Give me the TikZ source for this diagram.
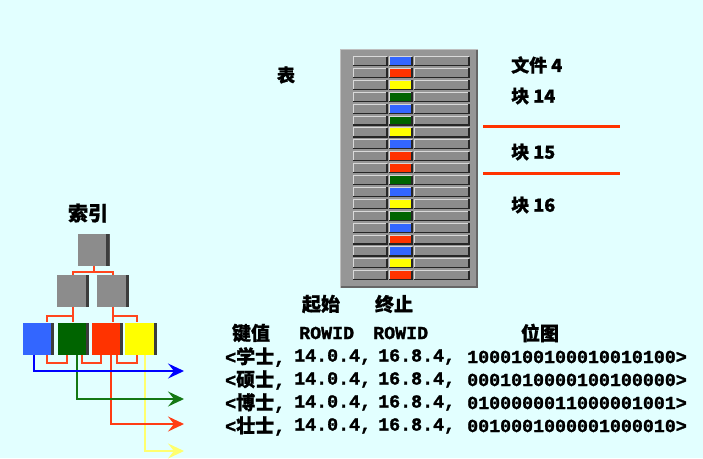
\documentclass[tikz,border=0pt]{standalone}
\usepackage{fontspec}
\newfontfamily\cjk{Noto Sans CJK SC}[FakeBold=1]
\newfontfamily\monof{Liberation Mono}[FakeBold=1.5]
\usetikzlibrary{arrows.meta,calc}
\definecolor{bg}{RGB}{226,255,255}
\definecolor{boxgray}{RGB}{140,140,140}
\definecolor{shadowc}{RGB}{60,60,60}
\definecolor{panelgray}{RGB}{150,150,150}
\definecolor{bargray}{RGB}{140,140,140}
\definecolor{cblue}{RGB}{51,102,255}
\definecolor{cgreen}{RGB}{0,100,0}
\definecolor{cred}{RGB}{255,51,0}
\definecolor{cyellow}{RGB}{255,255,0}
\definecolor{ablue}{RGB}{0,0,255}
\definecolor{agreen}{RGB}{20,120,20}
\definecolor{ared}{RGB}{255,60,20}
\definecolor{ayellow}{RGB}{255,255,110}
\definecolor{connred}{RGB}{255,70,30}
\newcommand\bevelbox[5]{%
  \fill[#5] (#1,#2) rectangle (#3,#4);
  \draw[white!85!black, line width=1pt] (#1,#4) -- (#1,#2) -- (#3,#2);
  \draw[black!85, line width=1.2pt] (#1,#4) -- (#3,#4) -- (#3,#2);
}
\tikzset{
  idxbox/.style={minimum width=32pt, minimum height=32pt, inner sep=0pt, fill=#1,
    path picture={\fill[shadowc] ([xshift=-3.5pt]path picture bounding box.north east) rectangle (path picture bounding box.south east);}},
  conn/.style={connred, line width=2pt},
  arr/.style={line width=2pt, -{Stealth[length=16pt, width=15pt, inset=6pt]}},
  lab/.style={font=\cjk\bfseries\fontsize{18}{18}\selectfont, inner sep=0pt},
  hdr/.style={font=\cjk\bfseries\fontsize{19}{19}\selectfont, inner sep=0pt},
  mono/.style={font=\monof\bfseries\fontsize{18.3}{18.3}\selectfont, inner sep=0pt},
  sep/.style={cred, line width=3pt}
}
\begin{document}
\begin{tikzpicture}[x=1pt,y=-1pt]
\fill[bg] (0,0) rectangle (703,458);
\useasboundingbox (0,0) rectangle (703,458);

% table panel
\fill[panelgray] (340,49) rectangle (478,288);
\draw[white!75!black, line width=1pt] (340.5,288) -- (340.5,49.5) -- (478,49.5);
\draw[black!60, line width=2pt] (341,287) -- (477,287) -- (477,50);
\foreach \c [count=\i from 0] in {cblue,cred,cyellow,cgreen,cblue,cgreen,cyellow,cblue,cred,cred,cgreen,cblue,cyellow,cgreen,cblue,cred,cblue,cyellow,cred} {
  \pgfmathsetmacro\yt{56.5+11.9*\i}
  \bevelbox{353}{\yt}{387}{\yt+9}{bargray}
  \bevelbox{389}{\yt}{412}{\yt+9}{\c}
  \bevelbox{414}{\yt}{469}{\yt+9}{bargray}
}

% table labels
\node[lab] (tbl) at (286,75) {表};
\node[lab, anchor=west] (f4) at (511,65) {文件 4};
\node[lab, anchor=west] (b14) at (511,96) {块 14};
\node[lab, anchor=west] (b15) at (511,152) {块 15};
\node[lab, anchor=west] (b16) at (511,205) {块 16};
\coordinate (s1a) at (483,126); \coordinate (s1b) at (620,126);
\coordinate (s2a) at (483,173); \coordinate (s2b) at (620,173);
\draw[sep] (s1a) -- (s1b);
\draw[sep] (s2a) -- (s2b);

% index tree
\node[lab, font=\cjk\bfseries\fontsize{20}{20}\selectfont] (suoyin) at (88,213) {索引};
\node[idxbox=boxgray] (root) at (93.5,249.5) {};
\node[idxbox=boxgray] (l2a) at (73,291) {};
\node[idxbox=boxgray] (l2b) at (113,291) {};
\node[idxbox=cblue, minimum width=31pt] (lb) at (38.5,338.5) {};
\node[idxbox=cgreen, minimum width=31pt] (lg) at (73.5,338.5) {};
\node[idxbox=cred, minimum width=31pt] (lr) at (107.5,338.5) {};
\node[idxbox=cyellow, minimum width=32pt] (ly) at (141,338.5) {};

\draw[conn] (root.south) -- ++(0,6) coordinate (rj) -| (l2a.north);
\draw[conn] (rj) -| (l2b.north);
\draw[conn] (l2a.south) -- (l2a.south |- lg.north);
\draw[conn] (l2a.south) -- ++(0,9) -| ([xshift=8.5pt]lb.north);
\draw[conn] (l2b.south) -- (l2b.south |- lr.north);
\draw[conn] (l2b.south) -- ++(0,9) -| ([xshift=-4pt]ly.north);
\draw[conn] ([xshift=8.5pt]lb.south) -- ++(0,8) -| ([xshift=-6.5pt]lg.south);
\draw[conn] ([xshift=8.5pt]lg.south) -- ++(0,8) -| ([xshift=-6.5pt]lr.south);
\draw[conn] ([xshift=9.5pt]lr.south) -- ++(0,8) -| ([xshift=-4pt]ly.south);

\coordinate (eb) at (184,371);
\coordinate (eg) at (184,399);
\coordinate (er) at (184,424);
\coordinate (ey) at (184,451);
\draw[arr, ayellow] ([xshift=4pt]ly.south) |- (ey);
\draw[arr, ared] ([xshift=3.5pt]lr.south) |- (er);
\draw[arr, agreen] ([xshift=3.5pt]lg.south) |- (eg);
\draw[arr, ablue] ([xshift=-4.5pt]lb.south) |- (eb);

% key table
\node[hdr] (qs) at (321,304) {起始};
\node[hdr] (zz) at (394,304) {终止};
\node[hdr] (jz) at (251,333) {键值};
\node[mono, anchor=west] (r1) at (299,333) {ROWID};
\node[mono, anchor=west] (r2) at (373,333) {ROWID};
\node[hdr] (wt) at (540,333) {位图};
\foreach \k/\b [count=\i from 0] in {学士/1000100100010010100, 硕士/0001010000100100000, 博士/0100000011000001001, 壮士/0010001000001000010} {
  \pgfmathsetmacro\yy{357+23*\i}
  \node[mono, anchor=west] (k\i) at (225,\yy) {<{\cjk\bfseries\fontsize{19}{19}\selectfont \k},};
  \node[mono, anchor=west] (s\i) at (294,\yy) {14.0.4,};
  \node[mono, anchor=west] (e\i) at (378,\yy) {16.8.4,};
  \node[mono, anchor=west] (m\i) at (467,\yy) {\b>};
}
\end{tikzpicture}
\end{document}
